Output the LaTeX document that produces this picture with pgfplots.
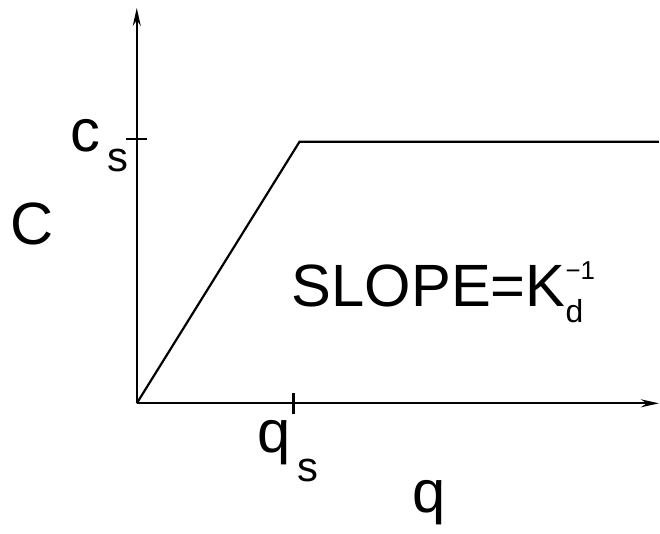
\documentclass[border=0pt]{standalone}
\usepackage{pgfplots}
\pgfplotsset{compat=1.18}
\usepackage{fontspec}
\setmainfont{Liberation Sans}
\usetikzlibrary{arrows.meta}

% one reference pixel = 0.5bp, data are in pixels from the origin
\newcommand{\lbl}{\fontsize{30}{36}\selectfont}
\newcommand{\lblsub}{\fontsize{21}{24}\selectfont}
\newcommand{\lbld}{\fontsize{16}{18}\selectfont}
\newcommand{\lblexp}{\fontsize{13}{15}\selectfont}

\begin{document}
\begin{tikzpicture}
\begin{axis}[
    scale only axis,
    width=261.5bp, height=198bp,
    xmin=0, xmax=523,
    ymin=0, ymax=396,
    axis lines=left,
    axis line style={line width=1.1pt, -{Stealth[length=9bp,width=4bp]}},
    xtick={157}, ytick={265},
    xticklabels={}, yticklabels={},
    tick align=center,
    major tick length=10.5bp,
    tick style={black, line width=1.1pt},
    clip=false,
]
\addplot[black, line width=1.1pt] coordinates {(0,0) (163,262) (523,262)};

% picture frame
\path (axis cs:-137,-130) rectangle (axis cs:523,404);

\node[anchor=base west, inner sep=0] at (axis cs:-127,159) {\lbl C};
\node[anchor=base west, inner sep=0] at (axis cs:-67,252) {\lbl c};
\node[anchor=base west, inner sep=0] at (axis cs:-30,232) {\lblsub s};
\node[anchor=base west, inner sep=0] at (axis cs:121,-49) {\lbl q};
\node[anchor=base west, inner sep=0] at (axis cs:161,-78) {\lblsub s};
\node[anchor=base west, inner sep=0] at (axis cs:276,-109) {\lbl q};
\node[anchor=base west, inner sep=0] at (axis cs:155,97)
    {\lbl SLOPE=K\rlap{\raisebox{-0.27em}{\lbld d}}\raisebox{0.45em}{\lblexp −1}};
\end{axis}
\end{tikzpicture}
\end{document}
